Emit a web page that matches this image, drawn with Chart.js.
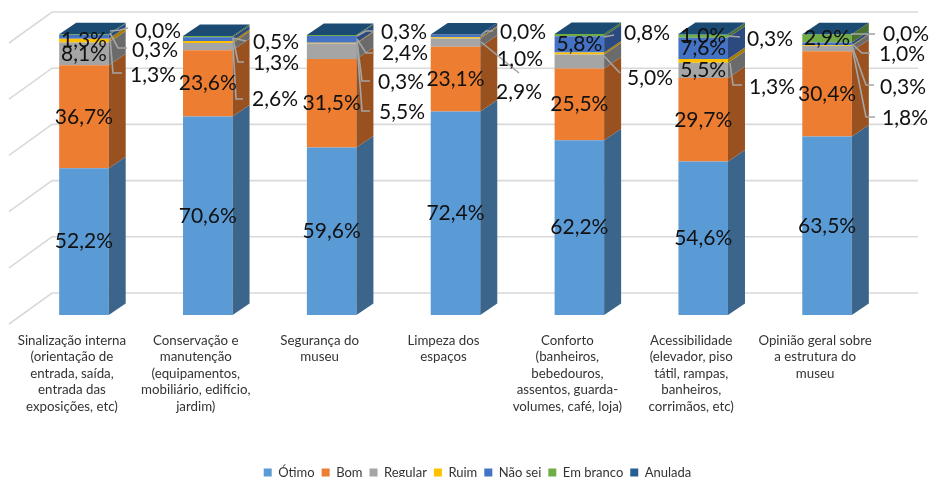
<!DOCTYPE html>
<html>
<head>
<meta charset="utf-8">
<title>Estrutura do museu</title>
<script src="https://cdn.jsdelivr.net/npm/chart.js@4"></script>
<style>
    html, body { margin: 0; padding: 0; background: #fff; overflow: hidden; }
    canvas { display: block; }
</style>
</head>
<body>
<canvas id="museuChart" width="930" height="477"></canvas>
<script>
const categories = [
    ['Sinalização interna', '(orientação de', 'entrada, saída,', 'entrada das', 'exposições, etc)'],
    ['Conservação e', 'manutenção', '(equipamentos,', 'mobiliário, edifício,', 'jardim)'],
    ['Segurança do', 'museu'],
    ['Limpeza dos', 'espaços'],
    ['Conforto', '(banheiros,', 'bebedouros,', 'assentos, guarda-', 'volumes, café, loja)'],
    ['Acessibilidade', '(elevador, piso', 'tátil, rampas,', 'banheiros,', 'corrimãos, etc)'],
    ['Opinião geral sobre', 'a estrutura do', 'museu']
];
const seriesNames = ['Ótimo', 'Bom', 'Regular', 'Ruim', 'Não sei', 'Em branco', 'Anulada'];
const otimo = [52.2, 70.6, 59.6, 72.4, 62.2, 54.6, 63.5];
const bom = [36.7, 23.6, 31.5, 23.1, 25.5, 29.7, 30.4];
const regular = [8.1, 2.6, 5.5, 2.9, 5.0, 5.5, 1.8];
const ruim = [1.3, 0.7, 0.3, 0.4, 0.7, 1.3, 0.3];   // 0.7 / 0.4 / 0.7 have no label in the picture, estimated
const naoSei = [1.3, 1.3, 2.4, 1.0, 5.8, 7.6, 1.0];
const emBranco = [0.3, 0.5, 0.3, 0.0, 0.8, 1.0, 2.9];
const anulada = [0.0, 0.0, 0.0, 0.0, 0.0, 0.3, 0.0];
const seriesValues = [otimo, bom, regular, ruim, naoSei, emBranco, anulada];
const gridTicks = [0, 20, 40, 60, 80, 100];

const seriesColors = ['#5B9BD5', '#ED7D31', '#A5A5A5', '#FFC000', '#4472C4', '#70AD47', '#255E91'];
const sideColors = ['#3B658B', '#9A5120', '#6B6B6B', '#A67D00', '#2C4A80', '#49702E', '#183D5E'];
const topColor = '#1B4A72';
const textColor = '#111111';
const labelFont = '21px Lato';

// fake 3D: how far the bar depth goes, and the floor/wall around it
const depthX = 17, depthY = 11.5;
const wallX = 30, wallY = 22, floorX = 13, floorY = 9;

// labels pulled out of the bar. bar, series, label x/y, elbow of the leader line
const outerLabels = [
    { bar: 0, s: 6, x: 158, y: 31, path: [[120, 30], [128, 28]], from: [110, 31] },
    { bar: 0, s: 5, x: 155, y: 50, path: [[118, 48], [127, 48]], from: [110, 33] },
    { bar: 0, s: 4, x: 153, y: 75, path: [[113, 73], [122, 73]], from: [110, 38] },
    { bar: 1, s: 5, x: 276, y: 42, path: [[246, 41]], from: [233, 38] },
    { bar: 1, s: 4, x: 276, y: 63, path: [[238, 62], [244, 62]], from: [233, 38] },
    { bar: 1, s: 2, x: 275, y: 99, path: [[236, 99], [243, 99]], from: [233, 45] },
    { bar: 2, s: 5, x: 404, y: 32, path: [[366, 31], [373, 31]], from: [357, 36] },
    { bar: 2, s: 4, x: 405, y: 53, path: [[366, 53], [374, 53]], from: [357, 39] },
    { bar: 2, s: 3, x: 401, y: 82, path: [[362, 81], [370, 81]], from: [357, 41] },
    { bar: 2, s: 2, x: 402, y: 112, path: [[362, 111], [370, 111]], from: [357, 43] },
    { bar: 3, s: 5, x: 523, y: 32, path: [[486, 31], [493, 31]], from: [481, 36] },
    { bar: 3, s: 4, x: 520, y: 59, path: [], from: [481, 38] },
    { bar: 3, s: 2, x: 519, y: 92, path: [[519, 73]], from: [481, 42] },
    { bar: 4, s: 5, x: 647, y: 33, path: [[614, 35]], from: [604, 37] },
    { bar: 4, s: 2, x: 650, y: 78, path: [[620, 73]], from: [604, 56] },
    { bar: 5, s: 6, x: 770, y: 39, path: [[740, 37]], from: [728, 36] },
    { bar: 5, s: 3, x: 772, y: 87, path: [[733, 85], [742, 85]], from: [730, 63] },
    { bar: 6, s: 6, x: 906, y: 34, path: [[875, 34]], from: [851, 34] },
    { bar: 6, s: 4, x: 902, y: 54, path: [[862, 53], [870, 53]], from: [852, 44] },
    { bar: 6, s: 3, x: 903, y: 87, path: [[866, 85], [874, 85]], from: [852, 46] },
    { bar: 6, s: 2, x: 905, y: 118, path: [[866, 117], [875, 117]], from: [852, 47] }
];

function fmt(v) {
    return v.toFixed(1).replace('.', ',') + '%';
}

function isOuter(bar, s) {
    return outerLabels.some(l => l.bar === bar && l.s === s);
}

const floorAndWall = {
    id: 'floorAndWall',
    afterLayout(chart) {
        // legend sits a bit right of the plot centre in the original
        chart.legend.left += 44;
    },
    beforeDatasetsDraw(chart) {
        const ctx = chart.ctx;
        const area = chart.chartArea;
        const y = chart.scales.y;
        ctx.save();
        ctx.strokeStyle = '#D9D9D9';
        ctx.lineWidth = 1.6;
        gridTicks.forEach(t => {
            const py = y.getPixelForValue(t);
            ctx.beginPath();
            ctx.moveTo(area.left - floorX, py + floorY);
            ctx.lineTo(area.left + wallX, py - wallY);
            ctx.lineTo(area.right + wallX - 1, py - wallY);
            ctx.stroke();
        });
        ctx.restore();
    }
};

const bars3d = {
    id: 'bars3d',
    afterDatasetsDraw(chart) {
        const ctx = chart.ctx;
        ctx.save();
        categories.forEach((c, i) => {
            let top = null;
            seriesValues.forEach((vals, s) => {
                const el = chart.getDatasetMeta(s).data[i];
                const r = el.x + el.width / 2;
                ctx.fillStyle = sideColors[s];
                ctx.beginPath();
                ctx.moveTo(r, el.y);
                ctx.lineTo(r + depthX, el.y - depthY);
                ctx.lineTo(r + depthX, el.base - depthY);
                ctx.lineTo(r, el.base);
                ctx.closePath();
                ctx.fill();
                top = el;
            });
            const l = top.x - top.width / 2;
            const r = top.x + top.width / 2;
            ctx.fillStyle = topColor;
            ctx.beginPath();
            ctx.moveTo(l, top.y);
            ctx.lineTo(l + depthX, top.y - depthY);
            ctx.lineTo(r + depthX, top.y - depthY);
            ctx.lineTo(r, top.y);
            ctx.closePath();
            ctx.fill();
        });
        ctx.restore();
    }
};

const valueLabels = {
    id: 'valueLabels',
    afterDraw(chart) {
        const ctx = chart.ctx;
        ctx.save();
        ctx.strokeStyle = '#A5A5A5';
        ctx.lineWidth = 1.6;
        outerLabels.forEach(l => {
            if (!l.path.length) return;
            ctx.beginPath();
            ctx.moveTo(l.from[0], l.from[1]);
            l.path.forEach(p => ctx.lineTo(p[0], p[1]));
            ctx.stroke();
        });
        ctx.font = labelFont;
        ctx.fillStyle = textColor;
        ctx.textAlign = 'center';
        ctx.textBaseline = 'middle';
        seriesValues.forEach((vals, s) => {
            vals.forEach((v, i) => {
                if (v < 1 || isOuter(i, s)) return;
                const el = chart.getDatasetMeta(s).data[i];
                ctx.fillText(fmt(v), el.x, (el.y + el.base) / 2);
            });
        });
        outerLabels.forEach(l => {
            ctx.fillText(fmt(seriesValues[l.s][l.bar]), l.x, l.y);
        });
        ctx.restore();
    }
};

new Chart(document.getElementById('museuChart').getContext('2d'), {
    type: 'bar',
    data: {
        labels: categories,
        datasets: seriesNames.map((name, s) => ({
            label: name,
            data: seriesValues[s],
            backgroundColor: seriesColors[s],
            borderWidth: 0,
            categoryPercentage: 0.4,
            barPercentage: 1
        }))
    },
    options: {
        responsive: false,
        animation: false,
        layout: { padding: { left: 22, right: 41, top: 34, bottom: -12 } },
        scales: {
            x: {
                stacked: true,
                grid: { display: false },
                border: { display: false },
                afterFit(scale) { scale.height = 144; },
                ticks: {
                    autoSkip: false,
                    maxRotation: 0,
                    minRotation: 0,
                    padding: 9,
                    labelOffset: -12,
                    color: '#333333',
                    font: { family: 'Lato', size: 13.3, lineHeight: 1.25 }
                }
            },
            y: {
                stacked: true,
                display: false,
                min: 0,
                max: 100
            }
        },
        plugins: {
            legend: {
                position: 'bottom',
                labels: {
                    boxWidth: 8,
                    boxHeight: 8,
                    padding: 7,
                    color: '#333333',
                    font: { family: 'Lato', size: 13 }
                }
            },
            tooltip: { enabled: false }
        }
    },
    plugins: [floorAndWall, bars3d, valueLabels]
});
</script>
</body>
</html>
